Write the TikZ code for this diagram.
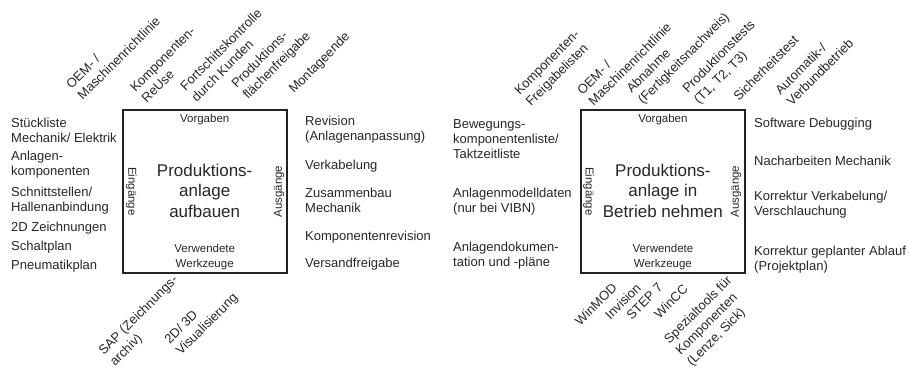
\documentclass[tikz,border=0pt]{standalone}
\usepackage{fontspec}
\setmainfont{Liberation Sans}
\usepackage{tikz}
\usetikzlibrary{positioning}
\definecolor{rahmen}{HTML}{222222}
\definecolor{schrift}{HTML}{262626}

\begin{document}
\begin{tikzpicture}[x=1pt, y=-1pt, node distance=5pt]
	\tikzstyle{anlage} = [draw=rahmen, line width=1.6pt, minimum width=164pt, minimum height=163pt, inner sep=0pt]
	\tikzstyle{titel} = [align=center, text=schrift, inner sep=0pt, font=\fontsize{17}{20.5}\selectfont]
	\tikzstyle{klein} = [align=center, text=schrift, inner sep=0pt, font=\fontsize{11.5}{15.5}\selectfont]
	\tikzstyle{liste} = [align=left, anchor=west, text=schrift, inner sep=0pt, font=\fontsize{13}{15}\selectfont]
	\tikzstyle{oben} = [align=left, anchor=south west, rotate=45, text=schrift, inner sep=0pt, font=\fontsize{13}{16}\selectfont]
	\tikzstyle{unten} = [align=left, anchor=north east, rotate=45, text=schrift, inner sep=0pt, font=\fontsize{13}{16}\selectfont]

	\useasboundingbox (0,0) rectangle (909,371);

	% linke Anlage
	\node[anlage] (aufbau) at (204.7,191.5) {};
	\node[titel] (aufbautitel) at ([yshift=1pt]aufbau.center) {Produktions-\\anlage\\aufbauen};
	\node[klein, below=5pt of aufbau.north] (vorgaben1) {Vorgaben};
	\node[klein, above=3.5pt of aufbau.south] (werkzeuge1) {Verwendete\\Werkzeuge};
	\node[klein, rotate=-90] (eingaenge1) at ([xshift=9.5pt]aufbau.west) {Eingänge};
	\node[klein, rotate=90] (ausgaenge1) at ([xshift=-8.5pt]aufbau.east) {Ausgänge};

	\node[liste] (stueckliste) at (11,130) {Stückliste\\Mechanik/ Elektrik};
	\node[liste] (komponenten) at (11,165) {Anlagen-\\komponenten};
	\node[liste] (schnittstellen) at (11,200.5) {Schnittstellen/\\Hallenanbindung};
	\node[liste] (zeichnungen) at (11,228.5) {2D Zeichnungen};
	\node[liste] (schaltplan) at (11,247.5) {Schaltplan};
	\node[liste] (pneumatik) at (11,266.5) {Pneumatikplan};

	\node[liste] (revision) at (305,130) {Revision\\(Anlagenanpassung)};
	\node[liste] (verkabelung) at (305,166) {Verkabelung};
	\node[liste] (zusammenbau) at (305,200.5) {Zusammenbau\\Mechanik};
	\node[liste] (komprevision) at (305,237) {Komponentenrevision};
	\node[liste] (versand) at (305,264) {Versandfreigabe};

	\node[oben] (oem1) at (83,101) {OEM- /\\Maschinenrichtlinie};
	\node[oben] (reuse) at (147,104) {Komponenten-\\ReUse};
	\node[oben] (kontrolle) at (197,103) {Fortschittskontrolle\\durch Kunden};
	\node[oben] (flaeche) at (250,102) {Produktions-\\flächenfreigabe};
	\node[oben] (montage) at (296,96) {Montageende};

	\node[unten, anchor=south west] (sap) at (117,369) {SAP (Zeichnungs-\\archiv)};
	\node[unten, anchor=south west] (visual) at (183,358) {2D/ 3D\\Visualisierung};

	% rechte Anlage
	\node[anlage] (betrieb) at (662.9,191.5) {};
	\node[titel] (betriebtitel) at ([yshift=1pt]betrieb.center) {Produktions-\\anlage in\\Betrieb nehmen};
	\node[klein, below=5pt of betrieb.north] (vorgaben2) {Vorgaben};
	\node[klein, above=3.5pt of betrieb.south] (werkzeuge2) {Verwendete\\Werkzeuge};
	\node[klein, rotate=-90] (eingaenge2) at ([xshift=8.5pt]betrieb.west) {Eingänge};
	\node[klein, rotate=90] (ausgaenge2) at ([xshift=-9.5pt]betrieb.east) {Ausgänge};

	\node[liste] (bewegung) at (453,139) {Bewegungs-\\komponentenliste/\\Taktzeitliste};
	\node[liste] (modelldaten) at (453,201.5) {Anlagenmodelldaten\\(nur bei VIBN)};
	\node[liste] (doku) at (453,256) {Anlagendokumen-\\tation und -pläne};

	\node[liste] (debugging) at (754,124) {Software Debugging};
	\node[liste] (nacharbeit) at (754,161) {Nacharbeiten Mechanik};
	\node[liste] (korrverkab) at (754,205) {Korrektur Verkabelung/\\Verschlauchung};
	\node[liste] (korrablauf) at (754,260) {Korrektur geplanter Ablauf\\(Projektplan)};

	\node[oben] (freigabe) at (533,109) {Komponenten-\\Freigabelisten};
	\node[oben] (oem2) at (594,107) {OEM- /\\Maschinenrichtlinie};
	\node[oben] (abnahme) at (645,107) {Abnahme\\(Fertigkeitsnachweis)};
	\node[oben] (tests) at (701,107) {Produktionstests\\(T1, T2, T3)};
	\node[oben] (sicherheit) at (739,102) {Sicherheitstest};
	\node[oben] (automatik) at (792,107) {Automatik-/\\Verbundbetrieb};

	\node[unten] (winmod) at (611,282) {WinMOD};
	\node[unten] (invision) at (635,282) {Invision};
	\node[unten] (step) at (657,282) {STEP 7};
	\node[unten] (wincc) at (682,283) {WinCC};
	\node[unten, anchor=south west] (spezial) at (694,369) {Spezialtools für\\Komponenten\\(Lenze, Sick)};
\end{tikzpicture}
\end{document}
